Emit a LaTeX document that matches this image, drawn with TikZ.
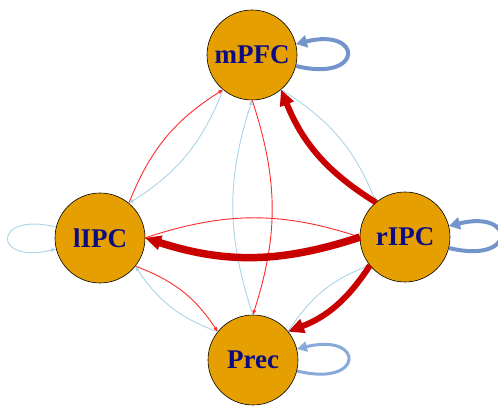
\documentclass[tikz,border=0pt]{standalone}
\usepackage{fontspec}
\setmainfont{Liberation Serif}
\usetikzlibrary{arrows.meta, calc}

\definecolor{roifill}{HTML}{E69F00}
\definecolor{roitext}{HTML}{0C0C80}
\definecolor{redweak}{HTML}{FF2A2A}
\definecolor{redstrong}{HTML}{C80000}
\definecolor{blueweak}{HTML}{A9D4E8}
\definecolor{blueloop}{HTML}{7495CC}
\definecolor{blueloopb}{HTML}{88AADB}

\begin{document}
\begin{tikzpicture}[x=1pt, y=1pt,
    roi/.style={circle, draw=black, line width=0.6pt, fill=roifill, minimum size=90pt, inner sep=0pt, text=roitext, font=\fontsize{27}{30}\selectfont\bfseries},
    weak/.style={line width=0.9pt, -{Triangle[length=5pt, width=3.5pt]}, bend left=18},
    strong/.style={line width=6pt, redstrong, -{Triangle[length=16pt, width=14pt]}, bend left=18},
    selfloop/.style={blueloop, line width=4pt, -{Triangle[length=11pt, width=12pt]}, min distance=70pt},
    weakloop/.style={blueweak, line width=0.9pt, -{Triangle[length=5pt, width=3.5pt]}, min distance=66pt}]

\useasboundingbox (0,0) rectangle (498,406);

% regions
\node[roi] (mpfc) at (252,351) {mPFC};
\node[roi] (lipc) at (100,168) {lIPC};
\node[roi] (ripc) at (405,169) {rIPC};
\node[roi] (prec) at (253,46) {Prec};

% weak links
\draw[weak, redweak] ($(lipc)!45pt!(mpfc)$) to ($(mpfc)!45pt!(lipc)$);
\draw[weak, blueweak] ($(mpfc)!45pt!(lipc)$) to ($(lipc)!45pt!(mpfc)$);
\draw[weak, redweak] ($(mpfc)!45pt!(prec)$) to ($(prec)!45pt!(mpfc)$);
\draw[weak, blueweak] ($(prec)!45pt!(mpfc)$) to ($(mpfc)!45pt!(prec)$);
\draw[weak, blueweak] ($(mpfc)!45pt!(ripc)$) to ($(ripc)!45pt!(mpfc)$);
\draw[weak, redweak] ($(lipc)!45pt!(ripc)$) to ($(ripc)!45pt!(lipc)$);
\draw[weak, redweak] ($(lipc)!45pt!(prec)$) to ($(prec)!45pt!(lipc)$);
\draw[weak, blueweak] ($(prec)!45pt!(lipc)$) to ($(lipc)!45pt!(prec)$);
\draw[weak, blueweak] ($(prec)!45pt!(ripc)$) to ($(ripc)!45pt!(prec)$);

% strong links
\draw[strong] ($(ripc)!45pt!(mpfc)$) to ($(mpfc)!45pt!(ripc)$);
\draw[strong, line width=7.5pt] ($(ripc)!45pt!(lipc)$) to ($(lipc)!45pt!(ripc)$);
\draw[strong] ($(ripc)!45pt!(prec)$) to ($(prec)!45pt!(ripc)$);

% self loops
\draw[selfloop] (mpfc) to[out=-14, in=14] (mpfc);
\draw[selfloop] (ripc) to[out=-14, in=14] (ripc);
\draw[selfloop, blueloopb, line width=3pt, -{Triangle[length=10pt, width=10pt]}] (prec) to[out=-14, in=14] (prec);
\draw[weakloop] (lipc) to[out=166, in=194] (lipc);
\end{tikzpicture}
\end{document}
